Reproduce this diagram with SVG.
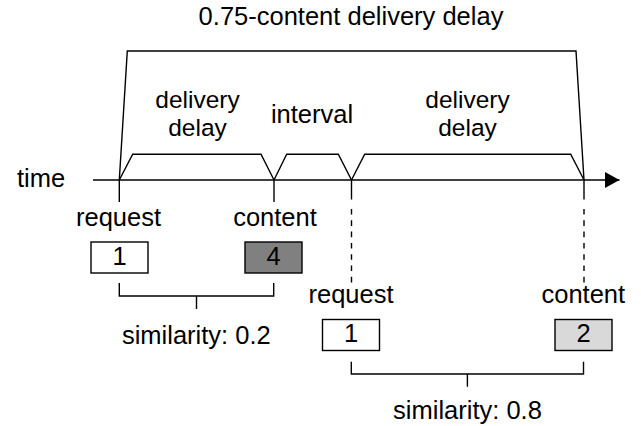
<svg xmlns="http://www.w3.org/2000/svg" width="641" height="426" viewBox="0 0 641 426">
<style>
text{font-family:"Liberation Sans",Arial,Helvetica,sans-serif;font-size:25.5px;fill:#000;text-anchor:middle}
.two{font-size:24.5px}
.ln{fill:none;stroke:#000;stroke-width:1.4;stroke-linejoin:miter}
.dash{fill:none;stroke:#000;stroke-width:1.4;stroke-dasharray:5.6 5.7}
.box{stroke:#000;stroke-width:1.4}
</style>
<defs>
<marker id="arr" markerUnits="userSpaceOnUse" markerWidth="16" markerHeight="18" refX="14.5" refY="8" orient="auto">
<path d="M0,0 L14.5,8 L0,16 Z" fill="#000"/>
</marker>
</defs>
<rect width="641" height="426" fill="#fff"/>
<g id="connectors">
<line id="time-axis" class="ln" x1="93" y1="180" x2="619.5" y2="180" marker-end="url(#arr)"/>
<path id="total-bracket" class="ln" d="M119.3,180 L127.3,51 L576,51 L584,180"/>
<path id="delay1-bracket" class="ln" d="M119.3,180 L132.7,154.3 L261,154.3 L274,180"/>
<path id="interval-bracket" class="ln" d="M274,180 L286.7,154.3 L338.3,154.3 L351.5,180"/>
<path id="delay2-bracket" class="ln" d="M351.5,180 L364.7,154.3 L570.7,154.3 L584,180"/>
<line class="ln" x1="119.3" y1="180" x2="119.3" y2="202"/>
<line class="ln" x1="274" y1="180" x2="274" y2="202"/>
<line class="ln" x1="351.5" y1="180" x2="351.5" y2="199.5"/>
<line class="ln" x1="584" y1="180" x2="584" y2="199.5"/>
<line class="dash" x1="351.5" y1="209" x2="351.5" y2="283.5"/>
<line class="dash" x1="584" y1="209" x2="584" y2="283.5"/>
<path id="sim1-bracket" class="ln" d="M119.3,283 L119.3,296 L273.7,296 L273.7,283 M196.5,296 L196.5,309"/>
<path id="sim2-bracket" class="ln" d="M351.3,361.7 L351.3,374 L583.5,374 L583.5,361.7 M467.4,374 L467.4,386.7"/>
</g>
<g id="title"><text x="351" y="25">0.75-content delivery delay</text></g>
<g id="time-label"><text x="17" y="187" style="text-anchor:start">time</text></g>
<g id="delivery-delay-1"><text class="two" x="197.5" y="108">delivery<tspan x="197.5" dy="28.4">delay</tspan></text></g>
<g id="interval"><text x="312" y="122.5">interval</text></g>
<g id="delivery-delay-2"><text class="two" x="467.5" y="108">delivery<tspan x="467.5" dy="28.4">delay</tspan></text></g>
<g id="request-1">
<text x="118.5" y="226">request</text>
<rect class="box" x="91" y="242" width="57" height="31" fill="#fff"/>
<text x="119.5" y="264.5">1</text>
</g>
<g id="content-1">
<text x="275" y="226">content</text>
<rect class="box" x="245" y="242" width="57" height="31" fill="#808080"/>
<text x="273.5" y="264.5">4</text>
</g>
<g id="similarity-1"><text x="196.3" y="343.5">similarity: 0.2</text></g>
<g id="request-2">
<text x="351" y="303.3">request</text>
<rect class="box" x="322.5" y="319.5" width="57" height="31" fill="#fff"/>
<text x="351" y="342">1</text>
</g>
<g id="content-2">
<text x="583.3" y="303.3">content</text>
<rect class="box" x="555" y="319.5" width="57" height="31" fill="#d9d9d9"/>
<text x="583.5" y="342">2</text>
</g>
<g id="similarity-2"><text x="467.5" y="419">similarity: 0.8</text></g>
</svg>
